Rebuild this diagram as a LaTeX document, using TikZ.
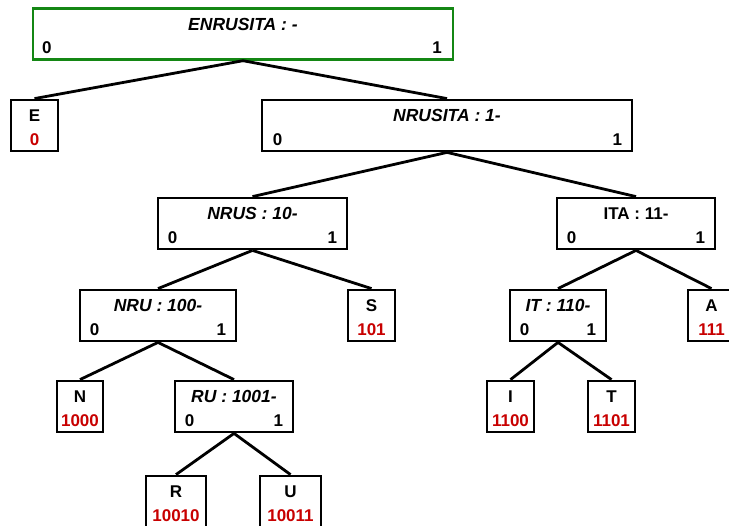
\documentclass[tikz,border=0pt]{standalone}
\usepackage{fontspec}
\setmainfont{Liberation Sans}
\usepackage{tikz}
\definecolor{codered}{RGB}{200,0,0}
\definecolor{rootgreen}{RGB}{20,135,20}
\tikzstyle{tree}=[x=1pt, y=-1pt, line width=2.8pt, font=\fontsize{17}{19}\selectfont\bfseries]
\tikzstyle{splitbox}=[rectangle, draw, inner sep=0pt, minimum height=51pt]
\tikzstyle{rootbox}=[rectangle, draw=rootgreen, line width=2.4pt, inner sep=0pt, minimum height=51pt]
\tikzstyle{leafbox}=[rectangle, draw, inner sep=0pt, minimum height=51pt, minimum width=47pt]
\tikzstyle{keylabel}=[inner sep=0pt, font=\fontsize{17.5}{19}\selectfont\bfseries\itshape]
\tikzstyle{bitlabel}=[inner sep=0pt]
\tikzstyle{codelabel}=[inner sep=0pt, text=codered]
\tikzstyle{branch}=[-, line width=2.8pt, black]

\begin{document}
\begin{tikzpicture}[tree]
	\useasboundingbox (0,0) rectangle (729,526);

	%The root
	\draw (243,34) node[rootbox, minimum width=420pt] (root) {};
	\node[keylabel] (rootname) at ([yshift=-17pt]root.north) {ENRUSITA : -};
	\node[bitlabel] (root0) at ([xshift=15pt,yshift=13pt]root.south west) {0};
	\node[bitlabel] (root1) at ([xshift=-17pt,yshift=13pt]root.south east) {1};

	%First level
	\draw (34.5,125.5) node[leafbox] (e) {};
	\node[bitlabel] (ename) at ([yshift=-17pt]e.north) {E};
	\node[codelabel] (ecode) at ([yshift=13pt]e.south) {0};

	\draw (447,125.5) node[splitbox, minimum width=370pt] (nrusita) {};
	\node[keylabel] (nrusitaname) at ([yshift=-17pt]nrusita.north) {NRUSITA : 1-};
	\node[bitlabel] (nrusita0) at ([xshift=17pt,yshift=13pt]nrusita.south west) {0};
	\node[bitlabel] (nrusita1) at ([xshift=-16pt,yshift=13pt]nrusita.south east) {1};

	%Second level
	\draw (252.5,223.5) node[splitbox, minimum width=189pt] (nrus) {};
	\node[keylabel] (nrusname) at ([yshift=-17pt]nrus.north) {NRUS : 10-};
	\node[bitlabel] (nrus0) at ([xshift=16pt,yshift=13pt]nrus.south west) {0};
	\node[bitlabel] (nrus1) at ([xshift=-16pt,yshift=13pt]nrus.south east) {1};

	\draw (636,223.5) node[splitbox, minimum width=158pt] (ita) {};
	\node[bitlabel] (itaname) at ([yshift=-17pt]ita.north) {ITA : 11-};
	\node[bitlabel] (ita0) at ([xshift=16pt,yshift=13pt]ita.south west) {0};
	\node[bitlabel] (ita1) at ([xshift=-16pt,yshift=13pt]ita.south east) {1};

	%Third level
	\draw (158,315.5) node[splitbox, minimum width=156pt] (nru) {};
	\node[keylabel] (nruname) at ([yshift=-17pt]nru.north) {NRU : 100-};
	\node[bitlabel] (nru0) at ([xshift=16pt,yshift=13pt]nru.south west) {0};
	\node[bitlabel] (nru1) at ([xshift=-16pt,yshift=13pt]nru.south east) {1};

	\draw (371.5,315.5) node[leafbox] (s) {};
	\node[bitlabel] (sname) at ([yshift=-17pt]s.north) {S};
	\node[codelabel] (scode) at ([yshift=13pt]s.south) {101};

	\draw (558,315.5) node[splitbox, minimum width=96pt] (it) {};
	\node[keylabel] (itname) at ([yshift=-17pt]it.north) {IT : 110-};
	\node[bitlabel] (it0) at ([xshift=16pt,yshift=13pt]it.south west) {0};
	\node[bitlabel] (it1) at ([xshift=-16pt,yshift=13pt]it.south east) {1};

	\draw (711.5,315.5) node[leafbox] (a) {};
	\node[bitlabel] (aname) at ([yshift=-17pt]a.north) {A};
	\node[codelabel] (acode) at ([yshift=13pt]a.south) {111};

	%Fourth level
	\draw (80,406.5) node[leafbox, minimum width=46pt] (n) {};
	\node[bitlabel] (nname) at ([yshift=-17pt]n.north) {N};
	\node[codelabel] (ncode) at ([yshift=13pt]n.south) {1000};

	\draw (234,406.5) node[splitbox, minimum width=118pt] (ru) {};
	\node[keylabel] (runame) at ([yshift=-17pt]ru.north) {RU : 1001-};
	\node[bitlabel] (ru0) at ([xshift=16pt,yshift=13pt]ru.south west) {0};
	\node[bitlabel] (ru1) at ([xshift=-16pt,yshift=13pt]ru.south east) {1};

	\draw (510.5,406.5) node[leafbox] (i) {};
	\node[bitlabel] (iname) at ([yshift=-17pt]i.north) {I};
	\node[codelabel] (icode) at ([yshift=13pt]i.south) {1100};

	\draw (611.5,406.5) node[leafbox] (t) {};
	\node[bitlabel] (tname) at ([yshift=-17pt]t.north) {T};
	\node[codelabel] (tcode) at ([yshift=13pt]t.south) {1101};

	%Fifth level
	\draw (176,501.5) node[leafbox, minimum width=60pt] (r) {};
	\node[bitlabel] (rname) at ([yshift=-17pt]r.north) {R};
	\node[codelabel] (rcode) at ([yshift=13pt]r.south) {10010};

	\draw (290.5,501.5) node[leafbox, minimum width=61pt] (u) {};
	\node[bitlabel] (uname) at ([yshift=-17pt]u.north) {U};
	\node[codelabel] (ucode) at ([yshift=13pt]u.south) {10011};

	%The branches
	\draw[branch] (root.south) -- (e.north);
	\draw[branch] (root.south) -- (nrusita.north);
	\draw[branch] (nrusita.south) -- (nrus.north);
	\draw[branch] (nrusita.south) -- (ita.north);
	\draw[branch] (nrus.south) -- (nru.north);
	\draw[branch] (nrus.south) -- (s.north);
	\draw[branch] (ita.south) -- (it.north);
	\draw[branch] (ita.south) -- (a.north);
	\draw[branch] (nru.south) -- (n.north);
	\draw[branch] (nru.south) -- (ru.north);
	\draw[branch] (ru.south) -- (r.north);
	\draw[branch] (ru.south) -- (u.north);
	\draw[branch] (it.south) -- (i.north);
	\draw[branch] (it.south) -- (t.north);
\end{tikzpicture}
\end{document}
